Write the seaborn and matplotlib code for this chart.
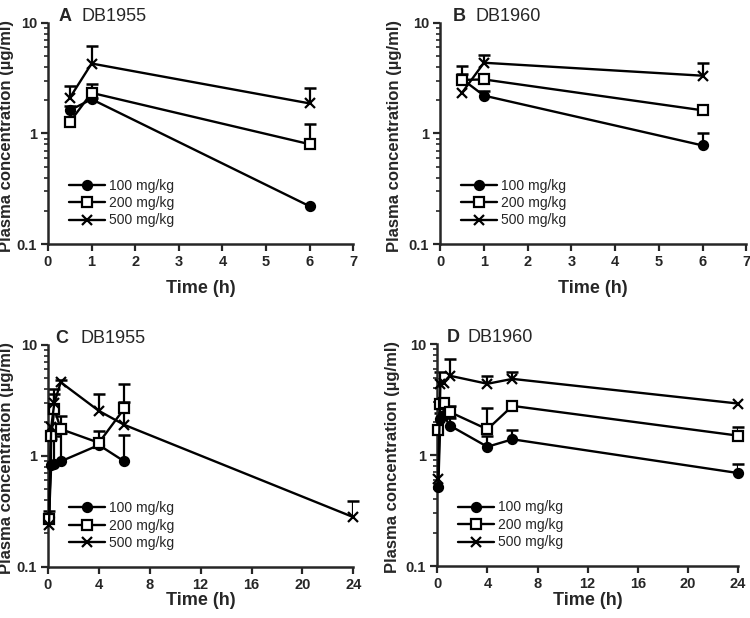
import numpy as np
import matplotlib
matplotlib.use('Agg')
import matplotlib.pyplot as plt
from matplotlib.ticker import FixedLocator, LogLocator, NullFormatter
import seaborn as sns

sns.set_theme(style='ticks')
plt.rcParams['font.family'] = ['Liberation Sans', 'DejaVu Sans']

doses = ['100 mg/kg', '200 mg/kg', '500 mg/kg']

# A - DB1955, short study
tA = [0.5, 1, 6]
A100 = [1.62, 2.04, 0.22]
A100_err = [0.15, 0.05, 0.0]
A200 = [1.27, 2.33, 0.80]
A200_err = [0.0, 0.50, 0.41]
A500 = [2.10, 4.29, 1.87]
A500_err = [0.57, 1.95, 0.71]

# B - DB1960, short study
tB = [0.5, 1, 6]
B100 = [3.10, 2.20, 0.78]
B100_err = [0.95, 0.20, 0.23]
B200 = [3.05, 3.08, 1.62]
B200_err = [0.40, 0.0, 0.0]
B500 = [2.34, 4.36, 3.33]
B500_err = [0.0, 0.75, 0.97]

# C - DB1955, long study
tC100 = [0.083, 0.25, 0.5, 1, 4, 6]
C100 = [0.28, 0.82, 0.85, 0.89, 1.25, 0.89]
C100_err = [0.04, 0.60, 0.65, 0.70, 0.0, 0.64]
tC200 = [0.083, 0.25, 0.5, 1, 4, 6]
C200 = [0.27, 1.50, 2.64, 1.74, 1.31, 2.67]
C200_err = [0.0, 0.0, 1.36, 0.52, 0.36, 1.78]
tC500 = [0.083, 0.25, 0.5, 1, 4, 6, 24]
C500 = [0.24, 1.80, 3.00, 4.60, 2.54, 1.90, 0.28]
C500_err = [0.0, 0.0, 0.60, 0.20, 1.06, 1.16, 0.11]

# D - DB1960, long study
tD = [0.083, 0.25, 0.5, 1, 4, 6, 24]
D100 = [0.52, 2.10, 2.30, 1.85, 1.19, 1.39, 0.69]
D100_err = [0.0, 0.30, 0.40, 0.30, 0.30, 0.30, 0.14]
D200 = [1.69, 2.90, 2.94, 2.45, 1.71, 2.78, 1.50]
D200_err = [0.0, 0.0, 0.0, 0.35, 0.97, 0.0, 0.31]
D500 = [0.61, 4.40, 4.50, 5.20, 4.40, 4.87, 2.92]
D500_err = [0.0, 1.27, 0.0, 2.10, 0.80, 0.80, 0.0]

styles = [('o', 'black'), ('s', 'white'), ('x', 'black')]

fig = plt.figure(figsize=(7.5, 6.18), dpi=100)


def panel(rect, letter, compound, series, xmax, xticks, letter_x, name_x, xlab_y, ylab_x):
    ax = fig.add_axes(rect)
    ax.set_yscale('log')
    for (t, y, err), lab, (mk, fc) in zip(series, doses, styles):
        t = np.array(t)
        y = np.array(y)
        err = np.array(err)
        # upper error bars only
        ax.vlines(t, y, y + err, color='black', lw=1.6, zorder=1)
        ok = err > 0
        ax.plot(t[ok], (y + err)[ok], ls='none', marker='_', ms=8, mew=1.8,
                color='black', zorder=1, clip_on=False)
        sns.lineplot(x=t, y=y, ax=ax, color='black', marker=mk, markersize=6.5,
                     markerfacecolor=fc, markeredgecolor='black',
                     markeredgewidth=1.6, linewidth=1.7, label=lab,
                     zorder=3, clip_on=False)
    ax.set_xlim(0, xmax)
    ax.set_ylim(0.1, 10)
    ax.set_xticks(xticks)
    ax.set_xticklabels([str(v) for v in xticks], fontweight='bold', fontsize=10.5)
    ax.yaxis.set_major_locator(FixedLocator([0.1, 1, 10]))
    ax.set_yticklabels(['0.1', '1', '10'], fontweight='bold', fontsize=10.5)
    ax.yaxis.set_minor_locator(LogLocator(base=10, subs=np.arange(2, 10)))
    ax.yaxis.set_minor_formatter(NullFormatter())
    ax.tick_params(which='major', direction='out', length=5, width=1.6, pad=3)
    ax.tick_params(which='minor', direction='out', length=3, width=1.2)
    sns.despine(ax=ax)
    for s in ['left', 'bottom']:
        ax.spines[s].set_linewidth(1.8)
    ax.set_xlabel('Time (h)', fontweight='bold', fontsize=13)
    ax.set_ylabel('Plasma concentration (\u00b5g/ml)', fontweight='bold', fontsize=12)
    ax.xaxis.set_label_coords(0.5, xlab_y)
    ax.yaxis.set_label_coords(ylab_x, 0.49)
    ax.text(letter_x, 1.01, letter, transform=ax.transAxes, fontweight='bold',
            fontsize=13, va='baseline')
    ax.text(name_x, 1.01, compound, transform=ax.transAxes, fontsize=13,
            va='baseline')
    ax.legend(loc='lower left', bbox_to_anchor=(0.05, 0.05), frameon=False,
              fontsize=10, handlelength=2.6, labelspacing=0.25,
              handletextpad=0.3, borderaxespad=0)
    return ax


panel([0.064, 0.605, 0.407, 0.358], 'A', 'DB1955',
      [(tA, A100, A100_err), (tA, A200, A200_err), (tA, A500, A500_err)],
      7, list(range(8)), 0.033, 0.11, -0.16, -0.113)
panel([0.587, 0.605, 0.408, 0.358], 'B', 'DB1960',
      [(tB, B100, B100_err), (tB, B200, B200_err), (tB, B500, B500_err)],
      7, list(range(8)), 0.04, 0.114, -0.16, -0.125)
panel([0.064, 0.083, 0.407, 0.359], 'C', 'DB1955',
      [(tC100, C100, C100_err), (tC200, C200, C200_err), (tC500, C500, C500_err)],
      24, [0, 4, 8, 12, 16, 20, 24], 0.023, 0.105, -0.115, -0.113)
panel([0.583, 0.084, 0.401, 0.359], 'D', 'DB1960',
      [(tD, D100, D100_err), (tD, D200, D200_err), (tD, D500, D500_err)],
      24, [0, 4, 8, 12, 16, 20, 24], 0.03, 0.102, -0.115, -0.125)

fig.savefig('out.png', dpi=100)
